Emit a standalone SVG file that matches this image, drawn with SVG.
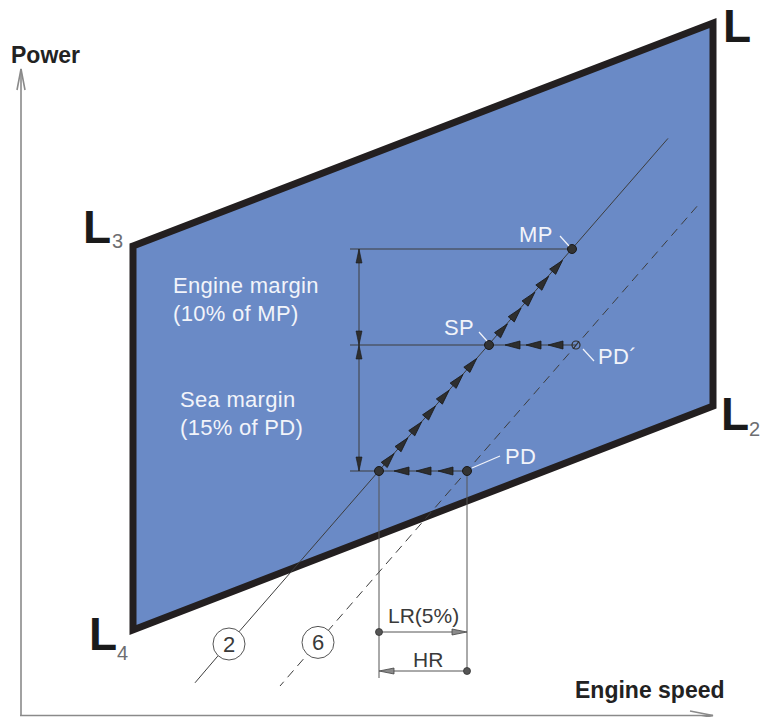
<svg xmlns="http://www.w3.org/2000/svg" xmlns:xlink="http://www.w3.org/1999/xlink" width="760" height="717" viewBox="0 0 760 717">
<style>
.ax{stroke:#8a8a8a;stroke-width:1.6;fill:none}
.axl{font-family:"Liberation Sans",Arial,sans-serif;font-weight:bold;font-size:23px;fill:#222}
.big{font-family:"Liberation Sans",Arial,sans-serif;font-weight:bold;font-size:46px;fill:#1a1a1a}
.sub{font-family:"Liberation Sans",Arial,sans-serif;font-size:20px;fill:#6d6e71}
.wt{font-family:"Liberation Sans",Arial,sans-serif;font-size:22px;letter-spacing:0.3px;fill:#f2f4fa}
.dt{font-family:"Liberation Sans",Arial,sans-serif;font-size:21px;fill:#3a3a3a}
.num{font-family:"Liberation Sans",Arial,sans-serif;font-size:22px;fill:#3a3a3a}
.ln{stroke:#3d3d3d;stroke-width:1;fill:none}
.dash{stroke:#3d3d3d;stroke-width:1;fill:none;stroke-dasharray:9 6}
.ldr{stroke:#f2f4fa;stroke-width:1.2}
.dot{fill:#333;stroke:#1a1a1a;stroke-width:1}
.gl{stroke:#555;stroke-width:1;fill:none}
</style>
<defs>
<path id="ah" d="M0,0 L-15,-4 L-15,4 Z" fill="#2e2e2e" stroke="#1a1a1a" stroke-width="0.8" stroke-linejoin="round"/>
<path id="dh" d="M0,0 L-14,-3 L-14,3 Z" fill="#2e2e2e" stroke="#1a1a1a" stroke-width="0.6"/>
<path id="gh" d="M0,0 L-15,-3 L-15,3 Z" fill="#8a8a8a" stroke="#444" stroke-width="0.8"/>
</defs>

<g id="axes">
<line class="ax" x1="21" y1="69" x2="21" y2="716"/>
<polyline class="ax" points="17,90 21,69 25,90"/>
<line class="ax" x1="20" y1="715.5" x2="713" y2="715.5"/>
<polyline class="ax" points="690,711 713,715.5 690,720"/>
<text class="axl" x="11" y="63">Power</text>
<text class="axl" x="575" y="698">Engine speed</text>
</g>

<g id="envelope">
<polygon points="133,246 713,23 713,406 133,630" fill="#6a8ac6" stroke="#231f20" stroke-width="7" stroke-linejoin="miter"/>
<text class="big" x="83" y="243">L</text><text class="sub" x="112" y="248">3</text>
<text class="big" x="723" y="42">L</text>
<text class="big" x="721" y="430">L</text><text class="sub" x="749" y="436">2</text>
<text class="big" x="89" y="650">L</text><text class="sub" x="117" y="660">4</text>
</g>

<g id="line-2">
<line class="ln" x1="668" y1="138.4" x2="240.5" y2="630"/>
<line class="ln" x1="217" y1="657" x2="195" y2="682.8"/>
<line class="gl" x1="240.5" y1="630" x2="217" y2="657"/>
<circle cx="229" cy="644" r="16" fill="#fff" stroke="#555" stroke-width="1"/>
<text class="num" x="229" y="652" text-anchor="middle">2</text>
</g>

<g id="line-6">
<line class="dash" x1="697" y1="206.3" x2="280" y2="686"/>
<circle cx="318" cy="642.4" r="16" fill="#fff" stroke="#555" stroke-width="1"/>
<text class="num" x="318" y="650.4" text-anchor="middle">6</text>
</g>

<g id="connectors">
<line class="ln" x1="350" y1="249" x2="572" y2="249"/>
<line class="ln" x1="350" y1="345" x2="576" y2="345"/>
<line class="ln" x1="350" y1="471" x2="467" y2="471"/>
<line class="ln" x1="359" y1="249" x2="359" y2="471"/>
<use xlink:href="#dh" href="#dh" transform="translate(359,249) rotate(-90)"/>
<use xlink:href="#dh" href="#dh" transform="translate(359,345) rotate(90)"/>
<use xlink:href="#dh" href="#dh" transform="translate(359,345) rotate(-90)"/>
<use xlink:href="#dh" href="#dh" transform="translate(359,471) rotate(90)"/>
<use xlink:href="#ah" href="#ah" transform="translate(394.1,453.6) rotate(-49)"/>
<use xlink:href="#ah" href="#ah" transform="translate(407.9,437.8) rotate(-49)"/>
<use xlink:href="#ah" href="#ah" transform="translate(421.6,421.9) rotate(-49)"/>
<use xlink:href="#ah" href="#ah" transform="translate(435.4,406.1) rotate(-49)"/>
<use xlink:href="#ah" href="#ah" transform="translate(449.2,390.2) rotate(-49)"/>
<use xlink:href="#ah" href="#ah" transform="translate(463,374.4) rotate(-49)"/>
<use xlink:href="#ah" href="#ah" transform="translate(476.7,358.5) rotate(-49)"/>
<use xlink:href="#ah" href="#ah" transform="translate(507.4,323.9) rotate(-49)"/>
<use xlink:href="#ah" href="#ah" transform="translate(521.1,308) rotate(-49)"/>
<use xlink:href="#ah" href="#ah" transform="translate(534.9,292.2) rotate(-49)"/>
<use xlink:href="#ah" href="#ah" transform="translate(548.7,276.3) rotate(-49)"/>
<use xlink:href="#ah" href="#ah" transform="translate(562.5,260.4) rotate(-49)"/>
<use xlink:href="#ah" href="#ah" transform="translate(505,345) rotate(180)"/>
<use xlink:href="#ah" href="#ah" transform="translate(526,345) rotate(180)"/>
<use xlink:href="#ah" href="#ah" transform="translate(548,345) rotate(180)"/>
<use xlink:href="#ah" href="#ah" transform="translate(394,471) rotate(180)"/>
<use xlink:href="#ah" href="#ah" transform="translate(416,471) rotate(180)"/>
<use xlink:href="#ah" href="#ah" transform="translate(438,471) rotate(180)"/>
<line class="gl" x1="379" y1="471" x2="379" y2="678"/>
<line class="gl" x1="467" y1="471" x2="467" y2="673"/>
<line class="gl" x1="379" y1="632" x2="462" y2="632"/>
<use xlink:href="#gh" href="#gh" transform="translate(467,632)"/>
<circle cx="379" cy="632" r="3.5" fill="#555" stroke="#333" stroke-width="0.8"/>
<line class="gl" x1="467" y1="671" x2="384" y2="671"/>
<use xlink:href="#gh" href="#gh" transform="translate(379,671) rotate(180)"/>
<circle cx="467" cy="671" r="3.5" fill="#555" stroke="#333" stroke-width="0.8"/>
</g>

<g id="MP">
<circle class="dot" cx="572" cy="249" r="4.5"/>
<line class="ldr" x1="560" y1="236" x2="569" y2="246"/>
<text class="wt" x="519" y="242">MP</text>
</g>
<g id="SP">
<circle class="dot" cx="489" cy="345" r="4.5"/>
<line class="ldr" x1="479" y1="332" x2="487" y2="341"/>
<text class="wt" x="444" y="335">SP</text>
</g>
<g id="PD-prime">
<circle cx="576" cy="345" r="4" fill="none" stroke="#2e2e2e" stroke-width="1.2"/>
<line x1="573" y1="349" x2="579" y2="341" stroke="#2e2e2e" stroke-width="1"/>
<line class="ldr" x1="583" y1="349" x2="594" y2="361"/>
<text class="wt" x="598" y="364">PD´</text>
</g>
<g id="PD">
<circle class="dot" cx="467" cy="471" r="4.5"/>
<line class="ldr" x1="472" y1="468" x2="500" y2="456"/>
<text class="wt" x="505" y="464">PD</text>
</g>
<g id="base-point">
<circle class="dot" cx="379" cy="471" r="4.5"/>
</g>

<g id="margins">
<text class="wt" x="173" y="293">Engine margin</text>
<text class="wt" x="173" y="321">(10% of MP)</text>
<text class="wt" x="180" y="407">Sea margin</text>
<text class="wt" x="180" y="435">(15% of PD)</text>
</g>

<g id="range-labels">
<text class="dt" x="388" y="623">LR(5%)</text>
<text class="dt" x="413" y="667">HR</text>
</g>
</svg>
